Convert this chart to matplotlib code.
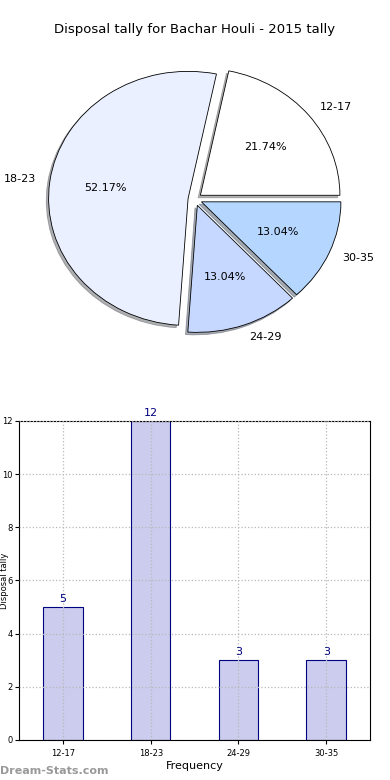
import matplotlib
matplotlib.use('Agg')
import matplotlib.pyplot as plt

# data
age_groups = ['12-17', '18-23', '24-29', '30-35']
tally = [5, 12, 3, 3]
pie_colors = ['#ffffff', '#eaf0ff', '#c6d8ff', '#b5d7ff']
explode = [0.05, 0.05, 0.05, 0.05]

fig = plt.figure(figsize=(3.9, 7.8), dpi=100)
fig.text(0.5, 1 - 30/780., 'Disposal tally for Bachar Houli - 2015 tally',
         ha='center', va='center', fontsize=9.5)

# pie
ax1 = fig.add_axes([0.035, 0.549, 0.93, 0.391])
wedges, texts, autotexts = ax1.pie(tally, labels=age_groups, colors=pie_colors,
                                   explode=explode, autopct='%.2f%%',
                                   shadow={'ox': -0.012, 'oy': -0.014, 'shade': 0.6},
                                   startangle=0,
                                   wedgeprops={'edgecolor': 'black', 'linewidth': 0.6},
                                   textprops={'fontsize': 8})
ax1.set_aspect('auto')
ax1.set_xlim(-1.3, 1.3)
ax1.set_ylim(-1.2, 1.2)
ax1.axis('off')

# bars
ax2 = fig.add_axes([0.049, 0.0513, 0.9, 0.409])
x = range(len(age_groups))
bars = ax2.bar(x, tally, width=0.45, color='#ccccee', edgecolor='navy', linewidth=0.8,
               zorder=2)
for i, v in enumerate(tally):
    ax2.text(i, v + 0.12, str(v), ha='center', va='bottom', color='navy', fontsize=8)
ax2.set_xlim(-0.5, 3.5)
ax2.set_ylim(0, 12)
ax2.set_xticks(list(x))
ax2.set_xticklabels(age_groups)
ax2.set_yticks(range(0, 13, 2))
ax2.tick_params(labelsize=6, length=3)
ax2.tick_params(axis='y', pad=1.5)
ax2.grid(True, linestyle=':', color='#b8b8b8', linewidth=0.9, zorder=3)
ax2.set_axisbelow(False)
ax2.set_xlabel('Frequency', fontsize=8, labelpad=2)
ax2.set_ylabel('Disposal tally', fontsize=6)
ax2.yaxis.set_label_coords(-0.03, 0.5)

fig.text(0.0, 1 - 771/780., 'Dream-Stats.com', color='#999999', fontsize=8,
         fontweight='bold', ha='left', va='center')

fig.savefig('out.png', dpi=100)
